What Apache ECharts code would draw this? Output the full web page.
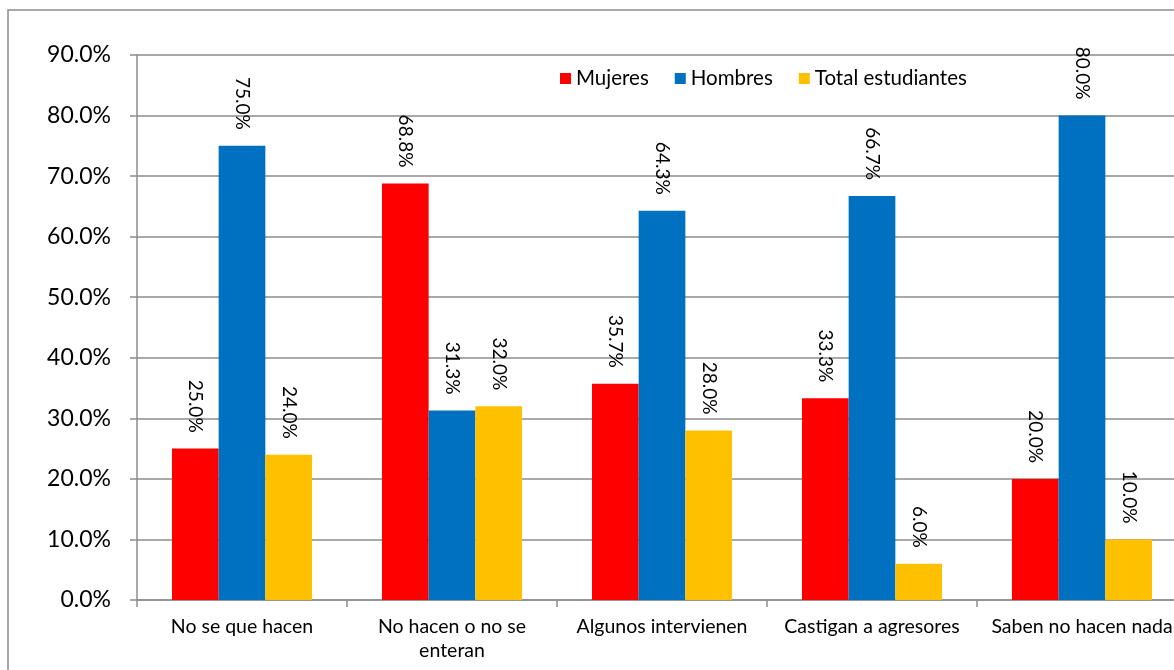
<!DOCTYPE html>
<html>
<head>
<meta charset="utf-8">
<script src="https://cdn.jsdelivr.net/npm/echarts@6/dist/echarts.min.js"></script>
<style>html,body{margin:0;padding:0;background:#fff;}#c{width:1174px;height:670px;}</style>
</head>
<body>
<div id="c"></div>
<script>
const categories = ['No se que hacen', 'No hacen o no se\nenteran', 'Algunos intervienen', 'Castigan a agresores', 'Saben no hacen nada'];
const mujeres = [25.0, 68.8, 35.7, 33.3, 20.0];
const hombres = [75.0, 31.3, 64.3, 66.7, 80.0];
const total = [24.0, 32.0, 28.0, 6.0, 10.0];
const seriesNames = ['Mujeres', 'Hombres', 'Total estudiantes'];
const colors = ['#FF0000', '#0070C0', '#FFC000'];

const FONT = 'Lato';
const chart = echarts.init(document.getElementById('c'), null, {renderer: 'canvas'});
const label = {
  show: true, position: 'top', rotate: -90, align: 'right', verticalAlign: 'middle',
  distance: 16, fontFamily: FONT, fontSize: 19, color: '#000',
  formatter: p => p.value.toFixed(1) + '%'
};
function mk(name, data, color) {
  return { name, type: 'bar', data, itemStyle: { color }, barGap: '0%', barCategoryGap: '33.3%', label };
}
chart.setOption({
  animation: false,
  textStyle: { fontFamily: FONT },
  graphic: [{ type: 'rect', shape: { x: 8, y: 10, width: 1400, height: 1000 }, style: { fill: 'none', stroke: '#8c8c8c', lineWidth: 1.5 }, silent: true }],
  legend: {
    data: seriesNames, top: 63, left: 555, itemWidth: 11, itemHeight: 11, itemGap: 26,
    icon: 'rect', textStyle: { fontFamily: FONT, fontSize: 20.5, color: '#000', padding: [0,0,0,0] }
  },
  grid: { left: 137, top: 55, bottom: 70, width: 1050, containLabel: false, outerBoundsMode: 'none' },
  xAxis: {
    type: 'category', data: categories,
    axisLine: { lineStyle: { color: '#8c8c8c', width: 1.5 } },
    axisTick: { show: true, length: 7, lineStyle: { color: '#8c8c8c', width: 1.5 } },
    axisLabel: { fontFamily: FONT, fontSize: 19.5, color: '#000', margin: 15, lineHeight: 24, interval: 0 }
  },
  yAxis: {
    type: 'value', min: 0, max: 90, interval: 10,
    axisLine: { show: true, lineStyle: { color: '#8c8c8c', width: 1.5 } },
    axisTick: { show: true, length: 7, lineStyle: { color: '#8c8c8c', width: 1.5 } },
    splitLine: { lineStyle: { color: '#8c8c8c', width: 1.5 } },
    axisLabel: { fontFamily: FONT, fontSize: 23, color: '#000', margin: 26, formatter: v => v.toFixed(1) + '%' }
  },
  series: [mk(seriesNames[0], mujeres, colors[0]), mk(seriesNames[1], hombres, colors[1]), mk(seriesNames[2], total, colors[2])]
});
</script>
</body>
</html>
